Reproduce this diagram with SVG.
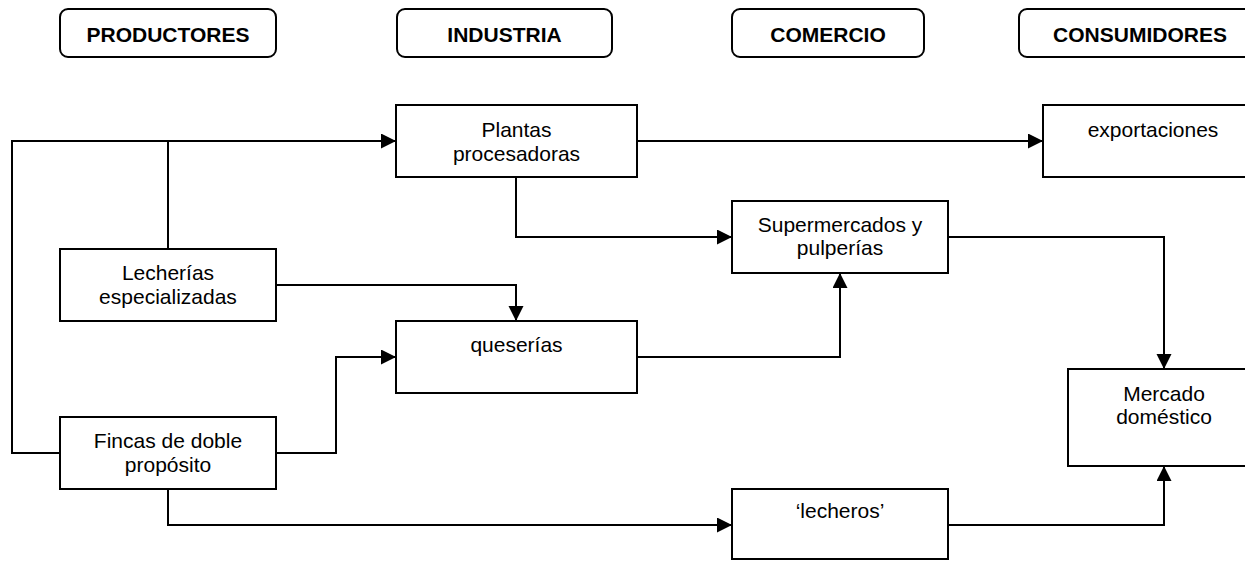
<svg xmlns="http://www.w3.org/2000/svg" width="1245" height="561" viewBox="0 0 1245 561">
<style>
.hdr{fill:#fff;stroke:#000;stroke-width:2}
.box{fill:#fff;stroke:#000;stroke-width:2}
.ht{font-family:"Liberation Sans",Arial,sans-serif;font-size:21px;font-weight:bold;text-anchor:middle;fill:#000}
.t{font-family:"Liberation Sans",Arial,sans-serif;font-size:21px;text-anchor:middle;fill:#000}
.c{fill:none;stroke:#000;stroke-width:2}
.a{marker-end:url(#arr)}
</style>
<defs>
<marker id="arr" markerUnits="userSpaceOnUse" markerWidth="16" markerHeight="16" refX="15" refY="7.5" orient="auto">
<path d="M0,0 L15,7.5 L0,15 z" fill="#000"/>
</marker>
</defs>
<rect width="1245" height="561" fill="#fff"/>
<g id="connectors">
<path class="c" d="M60,453 H12 V141 H384"/>
<path class="c a" d="M370,141 H396"/>
<path class="c" d="M168,249 V141"/>
<path class="c a" d="M637,141 H1043"/>
<path class="c a" d="M516,177 V237 H732"/>
<path class="c a" d="M276,285 H516 V321"/>
<path class="c a" d="M276,453 H336 V357 H396"/>
<path class="c a" d="M168,489 V525 H732"/>
<path class="c a" d="M637,357 H840 V273"/>
<path class="c a" d="M948,237 H1164 V369"/>
<path class="c a" d="M948,525 H1164 V466"/>
</g>
<g id="h-productores"><rect class="hdr" x="60" y="9" width="216" height="48" rx="8"/><text class="ht" x="168" y="42">PRODUCTORES</text></g>
<g id="h-industria"><rect class="hdr" x="397" y="9" width="215" height="48" rx="8"/><text class="ht" x="504.5" y="42">INDUSTRIA</text></g>
<g id="h-comercio"><rect class="hdr" x="732" y="9" width="192" height="48" rx="8"/><text class="ht" x="828" y="42">COMERCIO</text></g>
<g id="h-consumidores"><rect class="hdr" x="1019" y="9" width="250" height="48" rx="8"/><text class="ht" x="1140" y="42">CONSUMIDORES</text></g>
<g id="plantas"><rect class="box" x="396" y="105" width="241" height="72"/><text class="t" x="516.5" y="137">Plantas</text><text class="t" x="516.5" y="161">procesadoras</text></g>
<g id="exportaciones"><rect class="box" x="1043" y="105" width="220" height="72"/><text class="t" x="1153" y="137">exportaciones</text></g>
<g id="supermercados"><rect class="box" x="732" y="201" width="216" height="72"/><text class="t" x="840" y="232">Supermercados y</text><text class="t" x="840" y="255">pulperías</text></g>
<g id="lecherias"><rect class="box" x="60" y="249" width="216" height="72"/><text class="t" x="168" y="280">Lecherías</text><text class="t" x="168" y="304">especializadas</text></g>
<g id="queserias"><rect class="box" x="396" y="321" width="241" height="72"/><text class="t" x="516.5" y="352">queserías</text></g>
<g id="mercado"><rect class="box" x="1068" y="369" width="192" height="97"/><text class="t" x="1164" y="401">Mercado</text><text class="t" x="1164" y="424">doméstico</text></g>
<g id="fincas"><rect class="box" x="60" y="417" width="216" height="72"/><text class="t" x="168" y="448">Fincas de doble</text><text class="t" x="168" y="472">propósito</text></g>
<g id="lecheros"><rect class="box" x="732" y="489" width="216" height="70"/><text class="t" x="840" y="518">‘lecheros’</text></g>
</svg>
